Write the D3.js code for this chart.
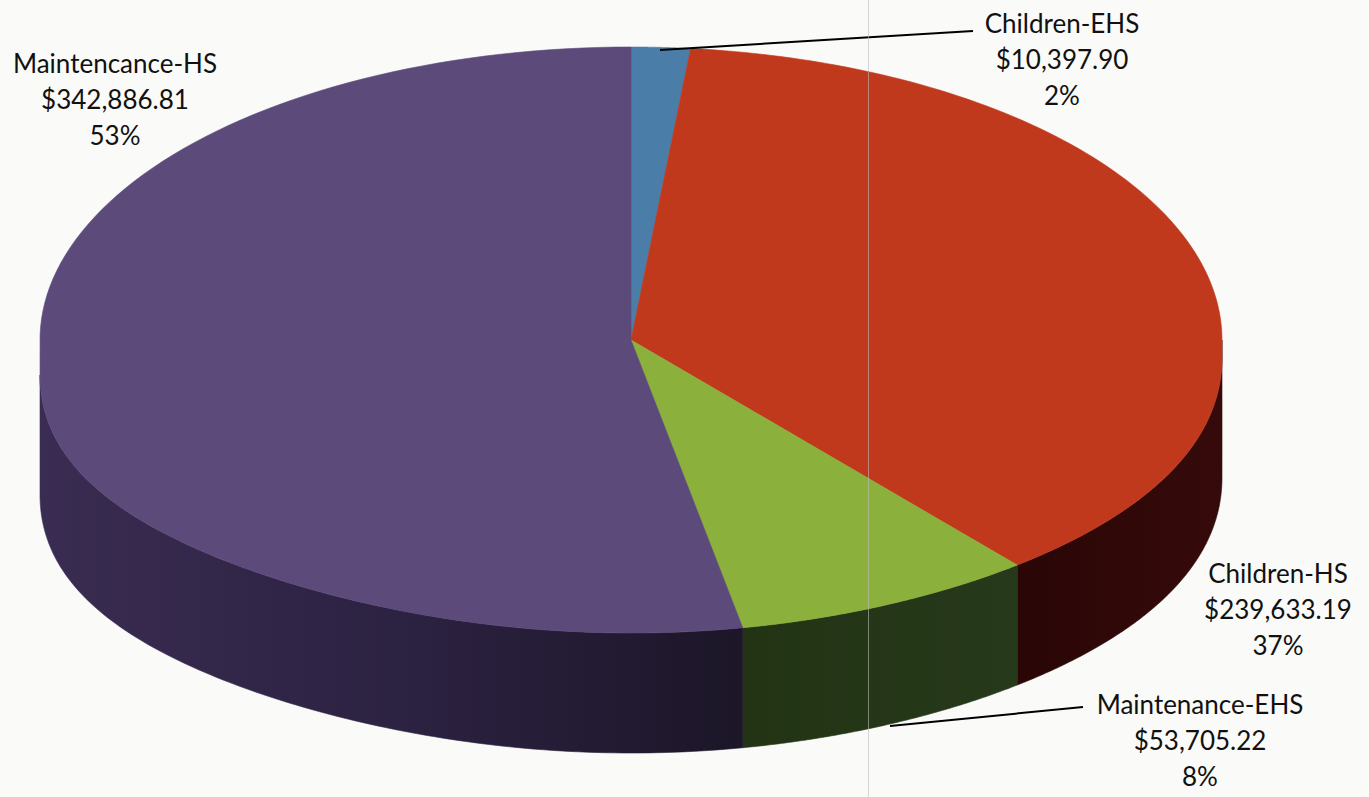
<!DOCTYPE html>
<html>
<head>
<meta charset="utf-8">
<script src="https://cdn.jsdelivr.net/npm/d3@7"></script>
<style>
  html, body { margin: 0; padding: 0; background: #fafaf8; }
  svg { display: block; }
  text { font-family: Lato, "Open Sans", sans-serif; fill: #111; }
</style>
</head>
<body>
<svg id="chart" width="1369" height="797"></svg>
<script>
// ---- data ----
const categories = ["Children-EHS", "Children-HS", "Maintenance-EHS", "Maintencance-HS"];
const amounts = [10397.90, 239633.19, 53705.22, 342886.81];
const amountLabels = ["$10,397.90", "$239,633.19", "$53,705.22", "$342,886.81"];
const percentLabels = ["2%", "37%", "8%", "53%"];
const topColors = ["#4a7ea8", "#c0391c", "#8cb03c", "#5c4a7b"];

(function () {
// ---- layout ----
const W = 1369, H = 797;
const cx = 631, cy = 340, rx = 591, ry = 293, depth = 120;

const svg = d3.select("#chart");
svg.append("rect").attr("width", W).attr("height", H).attr("fill", "#fafaf8");

const defs = svg.append("defs");
const gp = defs.append("linearGradient").attr("id", "purpleSide")
  .attr("gradientUnits", "userSpaceOnUse").attr("x1", 40).attr("y1", 0).attr("x2", 745).attr("y2", 0);
gp.append("stop").attr("offset", "0%").attr("stop-color", "#3a2c52");
gp.append("stop").attr("offset", "55%").attr("stop-color", "#2b2140");
gp.append("stop").attr("offset", "100%").attr("stop-color", "#1c1628");
const gg = defs.append("linearGradient").attr("id", "greenSide")
  .attr("gradientUnits", "userSpaceOnUse").attr("x1", 743).attr("y1", 0).attr("x2", 1017).attr("y2", 0);
gg.append("stop").attr("offset", "0%").attr("stop-color", "#223414");
gg.append("stop").attr("offset", "100%").attr("stop-color", "#26391a");
const gr = defs.append("linearGradient").attr("id", "redSide")
  .attr("gradientUnits", "userSpaceOnUse").attr("x1", 1017).attr("y1", 0).attr("x2", 1222).attr("y2", 0);
gr.append("stop").attr("offset", "0%").attr("stop-color", "#2a0606");
gr.append("stop").attr("offset", "100%").attr("stop-color", "#360a0a");
const sideFill = ["#1f3a52", "url(#redSide)", "url(#greenSide)", "url(#purpleSide)"];

const pie = d3.pie().sort(null).value(d => d);
const arcsData = pie(amounts);

// rim point for pie angle t (0 = 12 o'clock, clockwise); near half bulges slightly (perspective)
function rim(t) {
  const s = Math.sin(t), c = Math.cos(t);
  let y = cy - ry * c;
  if (c < 0) y += (s < 0 ? 35 : 18) * Math.pow(s, 4);
  return [cx + rx * s, y];
}

const line = d3.line();
const N = 120;
const samples = (a, b) => d3.range(N + 1).map(k => a + (b - a) * k / N);

// ---- sides (front-facing part) ----
const sides = svg.append("g");
arcsData.forEach((a, i) => {
  const s = Math.max(a.startAngle, Math.PI / 2);
  const e = Math.min(a.endAngle, 3 * Math.PI / 2);
  if (e <= s) return;
  const ts = samples(s, e);
  const pts = ts.map(rim)
    .concat(ts.slice().reverse().map(t => { const p = rim(t); return [p[0], p[1] + depth]; }));
  sides.append("path")
    .attr("d", line(pts) + "Z")
    .attr("fill", sideFill[i])
    .attr("stroke", sideFill[i]).attr("stroke-width", 0.6);
});

// ---- top faces ----
const topG = svg.append("g");
topG.selectAll("path").data(arcsData).join("path")
  .attr("d", d => line([[cx, cy]].concat(samples(d.startAngle, d.endAngle).map(rim))) + "Z")
  .attr("fill", (d, i) => topColors[i])
  .attr("stroke", (d, i) => topColors[i]).attr("stroke-width", 0.6);

// ---- leader lines ----
const leaders = [
  [[660, 50], [973, 31]],
  null,
  [[890, 726], [1083, 707]],
  null
];
leaders.forEach(l => {
  if (!l) return;
  svg.append("path").attr("d", line(l)).attr("fill", "none")
    .attr("stroke", "#000").attr("stroke-width", 2);
});

// ---- labels ----
const labelPos = [
  { x: 1062, y: 33 },
  { x: 1278, y: 583 },
  { x: 1200, y: 714 },
  { x: 115, y: 73 }
];
const lh = 36;
categories.forEach((c, i) => {
  const t = svg.append("text").attr("text-anchor", "middle").attr("font-size", 26)
    .attr("x", labelPos[i].x).attr("y", labelPos[i].y);
  [c, amountLabels[i], percentLabels[i]].forEach((s, k) => {
    t.append("tspan").attr("x", labelPos[i].x).attr("dy", k === 0 ? 0 : lh).text(s);
  });
});

// scan artefact: faint vertical line
svg.append("line").attr("x1", 868.5).attr("x2", 868.5).attr("y1", 0).attr("y2", H)
  .attr("stroke", "#bbb").attr("stroke-opacity", 0.6).attr("stroke-width", 1);
})();
</script>
</body>
</html>
